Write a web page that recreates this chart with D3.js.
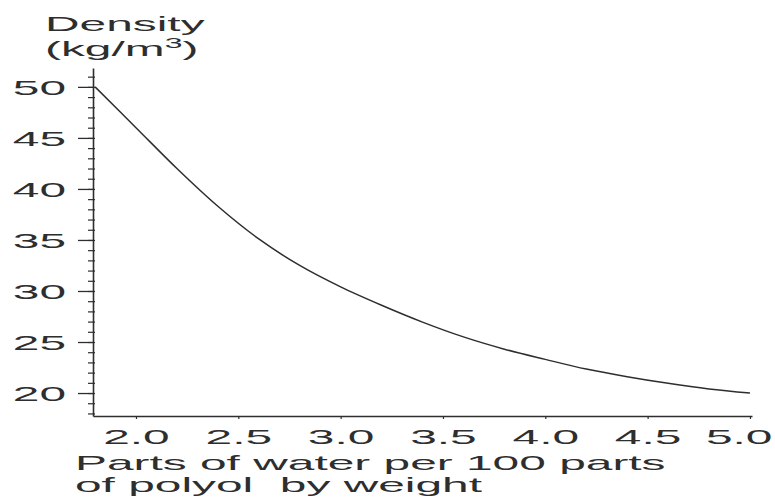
<!DOCTYPE html>
<html>
<head>
<meta charset="utf-8">
<script src="https://cdn.jsdelivr.net/npm/d3@7"></script>
<style>
  html, body { margin: 0; padding: 0; background: #fff; }
  svg { display: block; }
  text { font-family: "Liberation Sans", Arial, Helvetica, sans-serif; fill: #2e2e2e; }
</style>
</head>
<body>
<svg id="chart" width="775" height="498"></svg>
<script>
// ---- data ----
const waterParts = [1.8, 2.0, 2.2, 2.4, 2.6, 2.8, 3.0, 3.2, 3.4, 3.6, 3.8, 4.0, 4.2, 4.4, 4.6, 4.8, 5.0];
const densityValues = [50.0, 46.0, 42.0, 38.3, 35.1, 32.5, 30.4, 28.6, 26.95, 25.5, 24.3, 23.3, 22.35, 21.6, 20.95, 20.4, 20.0];
const xTickValues = [2.0, 2.5, 3.0, 3.5, 4.0, 4.5, 5.0];
const xTickLabels = ["2.0", "2.5", "3.0", "3.5", "4.0", "4.5", "5.0"];
const yTickValues = [20, 25, 30, 35, 40, 45, 50];
const yTickLabels = ["20", "25", "30", "35", "40", "45", "50"];
const yMinorTicks = d3.range(18, 52, 1);
const yTitleLines = ["Density", "(kg/m", "3", ")"];
const xTitleLines = ["Parts of water per 100 parts", "of polyol  by weight"];

// ---- layout ----
const SX = 2.28;          // horizontal stretch of the scanned lettering
const FS = 21;
const ink = "#2e2e2e";
const svg = d3.select("#chart");

const x = d3.scaleLinear().domain([1.79, 5.01]).range([93, 752]);
const y = d3.scaleLinear().domain([17.75, 51.85]).range([416, 68]);

// minor y ticks
svg.append("g")
  .attr("transform", "translate(93,0)")
  .call(d3.axisLeft(y).tickValues(yMinorTicks).tickSize(6).tickSizeOuter(0).tickFormat(""))
  .call(g => g.select(".domain").remove())
  .call(g => g.selectAll("line").attr("stroke", ink).attr("stroke-width", 1.2).attr("x2", -5).attr("x1", 2));

// major y axis
const yAxis = svg.append("g")
  .attr("transform", "translate(93,0)")
  .call(d3.axisLeft(y).tickValues(yTickValues).tickSize(15).tickSizeOuter(0)
        .tickFormat((d, i) => yTickLabels[i]));
yAxis.select(".domain").attr("stroke", ink).attr("stroke-width", 1.6);
yAxis.selectAll(".tick line").attr("stroke", ink).attr("stroke-width", 1.3);
yAxis.selectAll(".tick text")
  .attr("x", 0).attr("dy", "0.36em")
  .attr("font-size", FS)
  .attr("text-anchor", "end")
  .attr("fill", ink)
  .attr("transform", `translate(-27,0) scale(${SX},1)`);

// x axis
const xAxis = svg.append("g")
  .attr("transform", "translate(0,416)")
  .call(d3.axisBottom(x).tickValues(xTickValues).tickSize(3).tickSizeOuter(0)
        .tickFormat((d, i) => xTickLabels[i]));
xAxis.select(".domain").attr("stroke", ink).attr("stroke-width", 1.6);
xAxis.selectAll(".tick line").attr("stroke", ink).attr("stroke-width", 1.2);
xAxis.selectAll(".tick text")
  .attr("y", 0).attr("dy", 0)
  .attr("font-size", FS)
  .attr("text-anchor", "middle")
  .attr("fill", ink)
  .each(function(d) {
    const half = this.getComputedTextLength() * SX / 2;
    let shift = 0;
    const right = x(d) + half;
    if (right > 772) shift = 772 - right;
    d3.select(this).attr("transform", `translate(${shift},28) scale(${SX},1)`);
  });

// curve
const line = d3.line()
  .x((d, i) => x(waterParts[i]))
  .y(d => y(d))
  .curve(d3.curveCatmullRom.alpha(0.5));
svg.append("path")
  .datum(densityValues)
  .attr("d", line)
  .attr("fill", "none")
  .attr("stroke", ink)
  .attr("stroke-width", 1.5);

// y title
svg.append("text")
  .attr("font-size", FS)
  .attr("transform", `translate(45,31) scale(${SX},1)`)
  .text(yTitleLines[0]);
const t2 = svg.append("text")
  .attr("font-size", FS)
  .attr("transform", `translate(45,56) scale(${SX},1)`);
t2.append("tspan").text(yTitleLines[1]);
t2.append("tspan").attr("font-size", 14).attr("dy", -8).text(yTitleLines[2]);
t2.append("tspan").attr("dy", 8).text(yTitleLines[3]);

// x title
xTitleLines.forEach((s, i) => {
  svg.append("text")
    .attr("font-size", FS)
    .attr("xml:space", "preserve")
    .style("white-space", "pre")
    .attr("transform", `translate(75,${470 + i * 22}) scale(${SX},1)`)
    .text(s);
});
</script>
</body>
</html>
